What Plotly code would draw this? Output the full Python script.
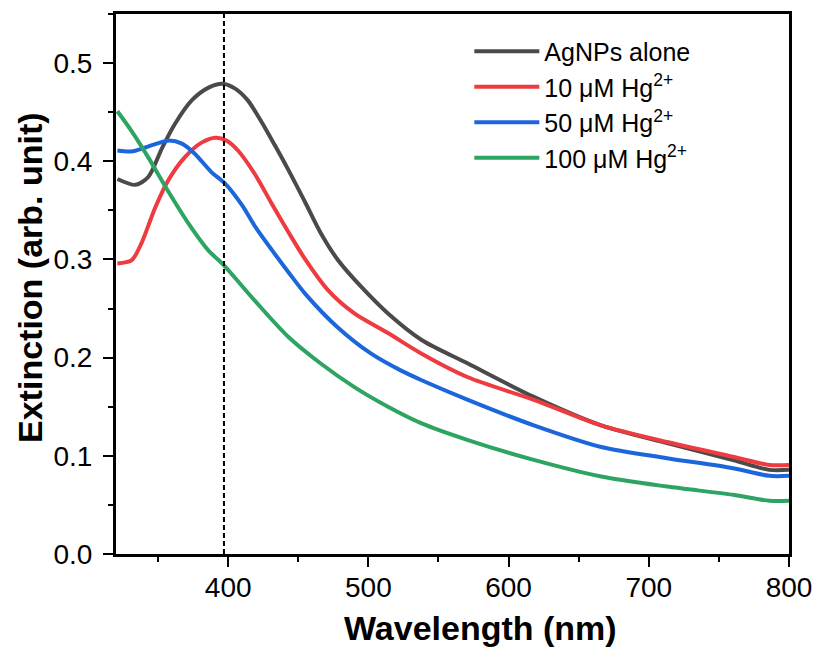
import plotly.graph_objects as go

# ---- data ----
wl_black = [321, 334, 343, 353, 362, 374, 386, 396, 405, 414, 423, 433, 443, 455, 466, 478, 495, 514, 538, 571, 618, 666, 713, 760, 786, 800]
ext_black = [0.382, 0.376, 0.384, 0.414, 0.438, 0.462, 0.475, 0.479, 0.474, 0.462, 0.442, 0.417, 0.391, 0.358, 0.327, 0.300, 0.272, 0.245, 0.218, 0.194, 0.160, 0.131, 0.113, 0.0958, 0.0857, 0.0857]

wl_red = [321, 331, 338, 348, 357, 369, 381, 391, 399, 407, 419, 431, 445, 455, 471, 490, 514, 538, 571, 618, 666, 713, 760, 786, 800]
ext_red = [0.296, 0.299, 0.316, 0.353, 0.380, 0.404, 0.419, 0.424, 0.421, 0.411, 0.387, 0.357, 0.323, 0.300, 0.269, 0.245, 0.225, 0.204, 0.180, 0.157, 0.131, 0.114, 0.099, 0.0907, 0.0907]

wl_blue = [321, 331, 341, 357, 367, 376, 388, 398, 410, 419, 431, 443, 455, 478, 502, 523, 538, 571, 618, 666, 713, 760, 786, 800]
ext_blue = [0.411, 0.410, 0.414, 0.421, 0.418, 0.408, 0.389, 0.377, 0.355, 0.334, 0.310, 0.287, 0.265, 0.231, 0.204, 0.187, 0.177, 0.157, 0.131, 0.109, 0.0976, 0.0874, 0.0796, 0.0796]

wl_green = [321, 331, 343, 357, 372, 386, 397, 419, 443, 466, 490, 514, 538, 571, 618, 666, 713, 760, 786, 800]
ext_green = [0.451, 0.431, 0.404, 0.370, 0.336, 0.309, 0.294, 0.258, 0.221, 0.194, 0.170, 0.150, 0.133, 0.116, 0.0958, 0.0789, 0.0687, 0.0603, 0.0542, 0.0542]

series_names = ["AgNPs alone", "10 μM Hg<sup>2+</sup>", "50 μM Hg<sup>2+</sup>", "100 μM Hg<sup>2+</sup>"]
series_colors = ["#4a4a4a", "#ee3b40", "#1c66dc", "#2ea462"]

x_title = "Wavelength (nm)"
y_title = "Extinction (arb. unit)"

peak_wl = 397
x_range = [320, 800]
y_range = [0, 0.55]

FONT = "Arial, Liberation Sans, Helvetica, sans-serif"

fig = go.Figure()
for wl, ext, name, color in zip(
    [wl_black, wl_red, wl_blue, wl_green],
    [ext_black, ext_red, ext_blue, ext_green],
    series_names, series_colors):
    fig.add_trace(go.Scatter(x=wl, y=ext, mode="lines", name=name,
                             line=dict(color=color, width=4, shape="spline", smoothing=0.8)))

fig.add_shape(type="line", x0=peak_wl, x1=peak_wl, y0=0, y1=1, yref="paper", xref="x",
              line=dict(color="black", width=2, dash="5px,3px"))

# axis titles as annotations (positioned like the reference)
fig.add_annotation(text=f"<b>{x_title}</b>", xref="paper", yref="paper",
                   x=0.542, y=-0.137, xanchor="center", yanchor="middle",
                   showarrow=False, font=dict(size=34, family=FONT, color="black"))
fig.add_annotation(text=f"<b>{y_title}</b>", xref="paper", yref="paper",
                   x=-0.1278, y=0.513, xanchor="center", yanchor="middle", textangle=-90,
                   showarrow=False, font=dict(size=34, family=FONT, color="black"))

fig.update_layout(
    width=818, height=648,
    margin=dict(l=116, r=29, t=14, b=94, autoexpand=False),
    paper_bgcolor="white", plot_bgcolor="white",
    font=dict(family=FONT, color="black"),
    showlegend=True,
    legend=dict(x=0.525, y=0.973, xanchor="left", yanchor="top",
                bgcolor="rgba(0,0,0,0)", font=dict(size=25, family=FONT),
                tracegroupgap=0, itemwidth=65),
)

fig.update_xaxes(
    range=x_range, tickvals=[400, 500, 600, 700, 800], automargin=False,
    showline=True, linewidth=3, linecolor="black", mirror=True,
    ticks="outside", ticklen=10, tickwidth=1.5, tickcolor="black",
    tickfont=dict(size=28, family=FONT), ticklabelstandoff=-4,
    minor=dict(dtick=50, tick0=300, ticks="outside", ticklen=5, tickwidth=1.5, tickcolor="black"),
    showgrid=False, zeroline=False,
)
fig.update_yaxes(
    range=y_range, tickvals=[0, 0.1, 0.2, 0.3, 0.4, 0.5], tickformat=".1f", automargin=False,
    showline=True, linewidth=3, linecolor="black", mirror=True,
    ticks="outside", ticklen=10, tickwidth=1.5, tickcolor="black",
    tickfont=dict(size=28, family=FONT), ticklabelstandoff=5,
    minor=dict(dtick=0.05, tick0=0, ticks="outside", ticklen=5, tickwidth=1.5, tickcolor="black"),
    showgrid=False, zeroline=False,
)

fig.write_html("out.html", config={"displayModeBar": False},
               post_script="document.body.style.margin='0';document.body.style.padding='0';")
